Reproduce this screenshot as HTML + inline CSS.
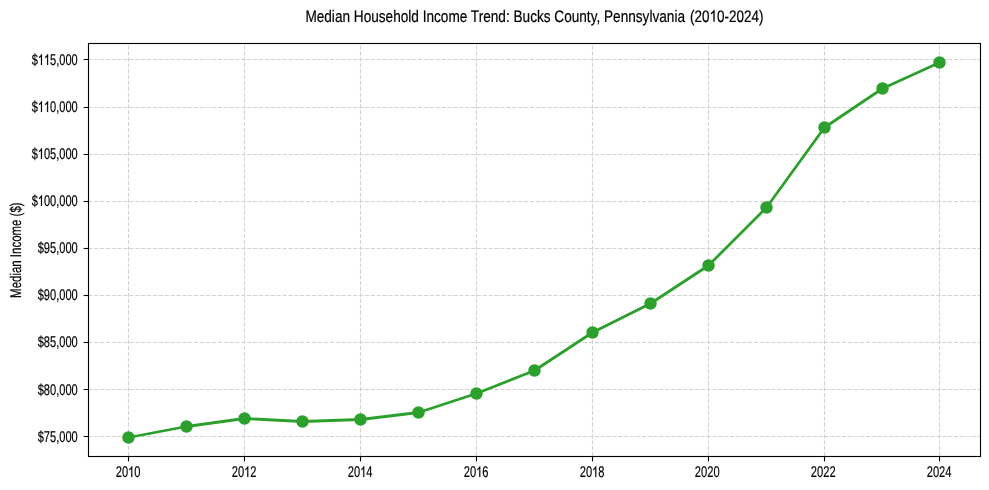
<!DOCTYPE html>
<html><head><meta charset="utf-8"><style>
html,body{margin:0;padding:0;background:#fff;width:989px;height:490px;overflow:hidden}
svg{display:block;will-change:transform}
text{text-rendering:geometricPrecision}
.g{stroke:#d2d2d2;stroke-width:1.11;stroke-dasharray:4.112 1.779;fill:none}
.t{font-family:"Liberation Sans",sans-serif;font-size:15.5px;fill:#000;stroke:#000;stroke-width:0.2px}
.yl{font-family:"Liberation Sans",sans-serif;font-size:15.5px;fill:#000;stroke:#000;stroke-width:0.2px}
.title{font-family:"Liberation Sans",sans-serif;font-size:16.67px;fill:#000;stroke:#000;stroke-width:0.2px}
</style></head><body>
<svg width="989" height="490" viewBox="0 0 989 490">
<rect width="989" height="490" fill="#fff"/>
<line x1="128.5" y1="456.1" x2="128.5" y2="43.5" class="g"/>
<line x1="244.5" y1="456.1" x2="244.5" y2="43.5" class="g"/>
<line x1="360.5" y1="456.1" x2="360.5" y2="43.5" class="g"/>
<line x1="476.5" y1="456.1" x2="476.5" y2="43.5" class="g"/>
<line x1="592.5" y1="456.1" x2="592.5" y2="43.5" class="g"/>
<line x1="708.5" y1="456.1" x2="708.5" y2="43.5" class="g"/>
<line x1="824.5" y1="456.1" x2="824.5" y2="43.5" class="g"/>
<line x1="939.5" y1="456.1" x2="939.5" y2="43.5" class="g"/>
<line x1="88.1" y1="436.5" x2="980.5" y2="436.5" class="g"/>
<line x1="88.1" y1="389.5" x2="980.5" y2="389.5" class="g"/>
<line x1="88.1" y1="342.5" x2="980.5" y2="342.5" class="g"/>
<line x1="88.1" y1="295.5" x2="980.5" y2="295.5" class="g"/>
<line x1="88.1" y1="248.5" x2="980.5" y2="248.5" class="g"/>
<line x1="88.1" y1="201.5" x2="980.5" y2="201.5" class="g"/>
<line x1="88.1" y1="154.5" x2="980.5" y2="154.5" class="g"/>
<line x1="88.1" y1="107.5" x2="980.5" y2="107.5" class="g"/>
<line x1="88.1" y1="59.5" x2="980.5" y2="59.5" class="g"/>
<polyline points="128.50,437.50 186.50,426.50 244.50,418.50 302.50,421.50 360.50,419.50 418.50,412.50 476.50,393.50 534.50,370.50 592.50,332.50 650.50,303.50 708.50,265.50 766.50,207.50 824.50,127.50 882.50,88.50 939.50,62.50" fill="none" stroke="#2ca02c" stroke-width="2.78" stroke-linejoin="round" stroke-linecap="square"/>
<circle cx="128.5" cy="437.5" r="5.55" fill="#2ca02c" stroke="#2ca02c" stroke-width="1.39"/>
<circle cx="186.5" cy="426.5" r="5.55" fill="#2ca02c" stroke="#2ca02c" stroke-width="1.39"/>
<circle cx="244.5" cy="418.5" r="5.55" fill="#2ca02c" stroke="#2ca02c" stroke-width="1.39"/>
<circle cx="302.5" cy="421.5" r="5.55" fill="#2ca02c" stroke="#2ca02c" stroke-width="1.39"/>
<circle cx="360.5" cy="419.5" r="5.55" fill="#2ca02c" stroke="#2ca02c" stroke-width="1.39"/>
<circle cx="418.5" cy="412.5" r="5.55" fill="#2ca02c" stroke="#2ca02c" stroke-width="1.39"/>
<circle cx="476.5" cy="393.5" r="5.55" fill="#2ca02c" stroke="#2ca02c" stroke-width="1.39"/>
<circle cx="534.5" cy="370.5" r="5.55" fill="#2ca02c" stroke="#2ca02c" stroke-width="1.39"/>
<circle cx="592.5" cy="332.5" r="5.55" fill="#2ca02c" stroke="#2ca02c" stroke-width="1.39"/>
<circle cx="650.5" cy="303.5" r="5.55" fill="#2ca02c" stroke="#2ca02c" stroke-width="1.39"/>
<circle cx="708.5" cy="265.5" r="5.55" fill="#2ca02c" stroke="#2ca02c" stroke-width="1.39"/>
<circle cx="766.5" cy="207.5" r="5.55" fill="#2ca02c" stroke="#2ca02c" stroke-width="1.39"/>
<circle cx="824.5" cy="127.5" r="5.55" fill="#2ca02c" stroke="#2ca02c" stroke-width="1.39"/>
<circle cx="882.5" cy="88.5" r="5.55" fill="#2ca02c" stroke="#2ca02c" stroke-width="1.39"/>
<circle cx="939.5" cy="62.5" r="5.55" fill="#2ca02c" stroke="#2ca02c" stroke-width="1.39"/>
<rect x="88.5" y="43.5" width="892.0" height="413.0" fill="none" stroke="#000" stroke-width="1.11"/>
<line x1="128.5" y1="456.5" x2="128.5" y2="461.36" stroke="#000" stroke-width="1.11"/>
<text x="128.10" y="477.0" text-anchor="middle" class="t" textLength="24.8" lengthAdjust="spacingAndGlyphs">20&#x2007;0</text>
<line x1="244.5" y1="456.5" x2="244.5" y2="461.36" stroke="#000" stroke-width="1.11"/>
<text x="244.10" y="477.0" text-anchor="middle" class="t" textLength="24.8" lengthAdjust="spacingAndGlyphs">20&#x2007;2</text>
<line x1="360.5" y1="456.5" x2="360.5" y2="461.36" stroke="#000" stroke-width="1.11"/>
<text x="360.10" y="477.0" text-anchor="middle" class="t" textLength="24.8" lengthAdjust="spacingAndGlyphs">20&#x2007;4</text>
<line x1="476.5" y1="456.5" x2="476.5" y2="461.36" stroke="#000" stroke-width="1.11"/>
<text x="476.10" y="477.0" text-anchor="middle" class="t" textLength="24.8" lengthAdjust="spacingAndGlyphs">20&#x2007;6</text>
<line x1="592.5" y1="456.5" x2="592.5" y2="461.36" stroke="#000" stroke-width="1.11"/>
<text x="592.10" y="477.0" text-anchor="middle" class="t" textLength="24.8" lengthAdjust="spacingAndGlyphs">20&#x2007;8</text>
<line x1="708.5" y1="456.5" x2="708.5" y2="461.36" stroke="#000" stroke-width="1.11"/>
<text x="707.20" y="477.0" text-anchor="middle" class="t" textLength="24.8" lengthAdjust="spacingAndGlyphs">2020</text>
<line x1="824.5" y1="456.5" x2="824.5" y2="461.36" stroke="#000" stroke-width="1.11"/>
<text x="823.20" y="477.0" text-anchor="middle" class="t" textLength="24.8" lengthAdjust="spacingAndGlyphs">2022</text>
<line x1="939.5" y1="456.5" x2="939.5" y2="461.36" stroke="#000" stroke-width="1.11"/>
<text x="939.10" y="477.0" text-anchor="middle" class="t" textLength="24.8" lengthAdjust="spacingAndGlyphs">2024</text>
<line x1="83.64" y1="436.5" x2="88.5" y2="436.5" stroke="#000" stroke-width="1.11"/>
<text x="77.7" y="441.90" text-anchor="end" class="t" textLength="40.0" lengthAdjust="spacingAndGlyphs">$75,000</text>
<line x1="83.64" y1="389.5" x2="88.5" y2="389.5" stroke="#000" stroke-width="1.11"/>
<text x="77.7" y="394.90" text-anchor="end" class="t" textLength="40.0" lengthAdjust="spacingAndGlyphs">$80,000</text>
<line x1="83.64" y1="342.5" x2="88.5" y2="342.5" stroke="#000" stroke-width="1.11"/>
<text x="77.7" y="346.90" text-anchor="end" class="t" textLength="40.0" lengthAdjust="spacingAndGlyphs">$85,000</text>
<line x1="83.64" y1="295.5" x2="88.5" y2="295.5" stroke="#000" stroke-width="1.11"/>
<text x="77.7" y="299.90" text-anchor="end" class="t" textLength="40.0" lengthAdjust="spacingAndGlyphs">$90,000</text>
<line x1="83.64" y1="248.5" x2="88.5" y2="248.5" stroke="#000" stroke-width="1.11"/>
<text x="77.7" y="252.90" text-anchor="end" class="t" textLength="40.0" lengthAdjust="spacingAndGlyphs">$95,000</text>
<line x1="83.64" y1="201.5" x2="88.5" y2="201.5" stroke="#000" stroke-width="1.11"/>
<text x="77.7" y="205.90" text-anchor="end" class="t" textLength="46.0" lengthAdjust="spacingAndGlyphs">$&#x2007;00,000</text>
<line x1="83.64" y1="154.5" x2="88.5" y2="154.5" stroke="#000" stroke-width="1.11"/>
<text x="77.7" y="158.90" text-anchor="end" class="t" textLength="46.0" lengthAdjust="spacingAndGlyphs">$&#x2007;05,000</text>
<line x1="83.64" y1="107.5" x2="88.5" y2="107.5" stroke="#000" stroke-width="1.11"/>
<text x="77.7" y="111.90" text-anchor="end" class="t" textLength="46.0" lengthAdjust="spacingAndGlyphs">$&#x2007;&#x2007;0,000</text>
<line x1="83.64" y1="59.5" x2="88.5" y2="59.5" stroke="#000" stroke-width="1.11"/>
<text x="77.7" y="64.90" text-anchor="end" class="t" textLength="46.0" lengthAdjust="spacingAndGlyphs">$&#x2007;&#x2007;5,000</text>
<text x="305.4" y="21.6" class="title" textLength="379.6" lengthAdjust="spacingAndGlyphs">Median Household Income Trend: Bucks County, Pennsylvania</text>
<text x="690.1" y="21.6" class="title" textLength="73.4" lengthAdjust="spacingAndGlyphs">(20&#x2007;0-2024)</text>
<text transform="translate(21.0,297.9) rotate(-90)" x="0" y="0" class="yl" textLength="95.5" lengthAdjust="spacingAndGlyphs">Median Income ($)</text>
<g id="ones" fill="#000" stroke="#000" stroke-width="0.2" vector-effect="non-scaling-stroke">
<path vector-effect="non-scaling-stroke" transform="translate(128.094,477.000) scale(0.005456,-0.007341)" d="M763 0L583 0L583 1147C540 1106 484 1065 414 1024C344 983 281 952 227 932L227 1106C327 1153 414 1210 489 1277C564 1344 617 1407 647 1466L763 1466Z"/>
<path vector-effect="non-scaling-stroke" transform="translate(244.094,477.000) scale(0.005456,-0.007341)" d="M763 0L583 0L583 1147C540 1106 484 1065 414 1024C344 983 281 952 227 932L227 1106C327 1153 414 1210 489 1277C564 1344 617 1407 647 1466L763 1466Z"/>
<path vector-effect="non-scaling-stroke" transform="translate(360.094,477.000) scale(0.005456,-0.007341)" d="M763 0L583 0L583 1147C540 1106 484 1065 414 1024C344 983 281 952 227 932L227 1106C327 1153 414 1210 489 1277C564 1344 617 1407 647 1466L763 1466Z"/>
<path vector-effect="non-scaling-stroke" transform="translate(476.094,477.000) scale(0.005456,-0.007341)" d="M763 0L583 0L583 1147C540 1106 484 1065 414 1024C344 983 281 952 227 932L227 1106C327 1153 414 1210 489 1277C564 1344 617 1407 647 1466L763 1466Z"/>
<path vector-effect="non-scaling-stroke" transform="translate(592.094,477.000) scale(0.005456,-0.007341)" d="M763 0L583 0L583 1147C540 1106 484 1065 414 1024C344 983 281 952 227 932L227 1106C327 1153 414 1210 489 1277C564 1344 617 1407 647 1466L763 1466Z"/>
<path vector-effect="non-scaling-stroke" transform="translate(37.825,205.900) scale(0.005397,-0.007341)" d="M763 0L583 0L583 1147C540 1106 484 1065 414 1024C344 983 281 952 227 932L227 1106C327 1153 414 1210 489 1277C564 1344 617 1407 647 1466L763 1466Z"/>
<path vector-effect="non-scaling-stroke" transform="translate(37.825,158.900) scale(0.005397,-0.007341)" d="M763 0L583 0L583 1147C540 1106 484 1065 414 1024C344 983 281 952 227 932L227 1106C327 1153 414 1210 489 1277C564 1344 617 1407 647 1466L763 1466Z"/>
<path vector-effect="non-scaling-stroke" transform="translate(37.825,111.900) scale(0.005397,-0.007341)" d="M763 0L583 0L583 1147C540 1106 484 1065 414 1024C344 983 281 952 227 932L227 1106C327 1153 414 1210 489 1277C564 1344 617 1407 647 1466L763 1466Z"/>
<path vector-effect="non-scaling-stroke" transform="translate(43.961,111.900) scale(0.005397,-0.007341)" d="M763 0L583 0L583 1147C540 1106 484 1065 414 1024C344 983 281 952 227 932L227 1106C327 1153 414 1210 489 1277C564 1344 617 1407 647 1466L763 1466Z"/>
<path vector-effect="non-scaling-stroke" transform="translate(37.825,64.900) scale(0.005397,-0.007341)" d="M763 0L583 0L583 1147C540 1106 484 1065 414 1024C344 983 281 952 227 932L227 1106C327 1153 414 1210 489 1277C564 1344 617 1407 647 1466L763 1466Z"/>
<path vector-effect="non-scaling-stroke" transform="translate(43.961,64.900) scale(0.005397,-0.007341)" d="M763 0L583 0L583 1147C540 1106 484 1065 414 1024C344 983 281 952 227 932L227 1106C327 1153 414 1210 489 1277C564 1344 617 1407 647 1466L763 1466Z"/>
<path vector-effect="non-scaling-stroke" transform="translate(709.562,21.600) scale(0.006591,-0.007895)" d="M763 0L583 0L583 1147C540 1106 484 1065 414 1024C344 983 281 952 227 932L227 1106C327 1153 414 1210 489 1277C564 1344 617 1407 647 1466L763 1466Z"/>
</g>
</svg>
</body></html>
